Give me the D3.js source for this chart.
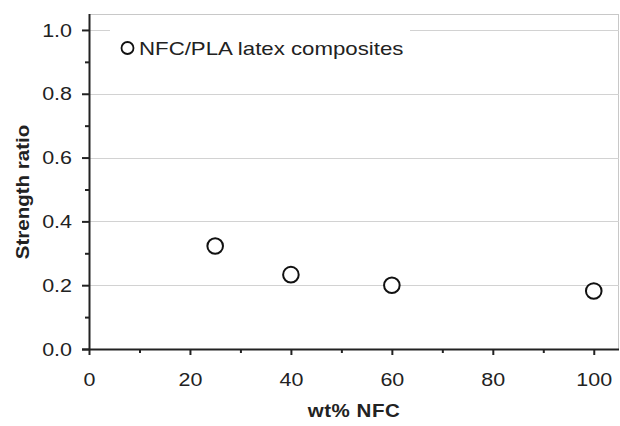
<!DOCTYPE html>
<html>
<head>
<meta charset="utf-8">
<script src="https://cdn.jsdelivr.net/npm/d3@7"></script>
<style>
  html, body { margin: 0; padding: 0; background: #fff; }
  svg { display: block; font-family: "Liberation Sans", Arial, sans-serif; }
</style>
</head>
<body>
<svg id="chart" width="620" height="426"></svg>
<script>
const wtNFC = [25, 40, 60, 100];
const strengthRatio = [0.323, 0.233, 0.200, 0.182];
const xTicks = [0, 20, 40, 60, 80, 100];
const xMinorTicks = [10, 30, 50, 70, 90];
const yTicks = [0.0, 0.2, 0.4, 0.6, 0.8, 1.0];
const yMinorTicks = [0.1, 0.3, 0.5, 0.7, 0.9];
const seriesName = "NFC/PLA latex composites";
const xTitle = "wt% NFC";
const yTitle = "Strength ratio";

const svg = d3.select("#chart");
const L = 89, R = 619, T = 14, B = 349;
const x = d3.scaleLinear().domain([0, 105]).range([L, R]);
const y = d3.scaleLinear().domain([0, 1.05]).range([B, T]);
const STRETCH = 1.13;

function stretch(sel, f) {
  sel.each(function () {
    const w = this.getComputedTextLength();
    d3.select(this).attr("textLength", w * f).attr("lengthAdjust", "spacingAndGlyphs");
  });
}

// frame (top, right)
svg.append("line").attr("x1", L).attr("x2", R).attr("y1", T + 0.5).attr("y2", T + 0.5)
  .attr("stroke", "#c8c8c8").attr("stroke-width", 1);
svg.append("line").attr("x1", R - 0.5).attr("x2", R - 0.5).attr("y1", T).attr("y2", B)
  .attr("stroke", "#c8c8c8").attr("stroke-width", 1);

// gridlines
svg.append("g").selectAll("line").data(yTicks.filter(d => d > 0)).join("line")
  .attr("x1", L).attr("x2", R)
  .attr("y1", d => Math.round(y(d)) + 0.5).attr("y2", d => Math.round(y(d)) + 0.5)
  .attr("stroke", "#d2d2d2").attr("stroke-width", 1);

// legend background
svg.append("rect").attr("x", 110).attr("y", 24).attr("width", 300).attr("height", 44).attr("fill", "#fff");

// minor axes
svg.append("g").attr("transform", `translate(${L},0)`)
  .call(d3.axisLeft(y).tickValues(yMinorTicks).tickSize(4).tickFormat(""))
  .call(g => g.select(".domain").remove())
  .call(g => g.selectAll("line").attr("stroke", "#222").attr("stroke-width", 2));
svg.append("g").attr("transform", `translate(0,${B})`)
  .call(d3.axisBottom(x).tickValues(xMinorTicks).tickSize(4).tickFormat(""))
  .call(g => g.select(".domain").remove())
  .call(g => g.selectAll("line").attr("stroke", "#222").attr("stroke-width", 2));

// major axes
const yAxis = svg.append("g").attr("transform", `translate(${L},0)`)
  .call(d3.axisLeft(y).tickValues(yTicks).tickSize(7).tickPadding(10).tickSizeOuter(0).tickFormat(d3.format(".1f")));
yAxis.select(".domain").attr("stroke", "#222").attr("stroke-width", 2)
  .attr("d", `M0.5,${T}V${B}`);
yAxis.selectAll(".tick line").attr("stroke", "#222").attr("stroke-width", 2);
yAxis.selectAll("text").attr("font-size", 19).attr("fill", "#222")
  .attr("font-family", "Liberation Sans, Arial, sans-serif").call(stretch, STRETCH);

const xAxis = svg.append("g").attr("transform", `translate(0,${B})`)
  .call(d3.axisBottom(x).tickValues(xTicks).tickSize(6).tickPadding(18).tickSizeOuter(0));
xAxis.select(".domain").attr("stroke", "#222").attr("stroke-width", 2)
  .attr("d", `M${L - 7},0.5H${R}`);
xAxis.selectAll(".tick line").attr("stroke", "#222").attr("stroke-width", 2);
xAxis.selectAll("text").attr("font-size", 19).attr("fill", "#222")
  .attr("font-family", "Liberation Sans, Arial, sans-serif").call(stretch, STRETCH);

// points
svg.append("g").selectAll("circle").data(wtNFC.map((d, i) => [d, strengthRatio[i]])).join("circle")
  .attr("cx", d => x(d[0])).attr("cy", d => y(d[1])).attr("r", 7.8)
  .attr("fill", "#fff").attr("stroke", "#111").attr("stroke-width", 2);

// legend
svg.append("circle").attr("cx", 127.5).attr("cy", 48).attr("r", 6)
  .attr("fill", "#fff").attr("stroke", "#111").attr("stroke-width", 1.8);
svg.append("text").attr("x", 139).attr("y", 55).attr("font-size", 19).attr("fill", "#222")
  .text(seriesName).call(stretch, 1.17);

// axis titles
const xt = svg.append("text").attr("x", (L + R) / 2).attr("y", 417).attr("text-anchor", "middle")
  .attr("font-size", 19).attr("font-weight", "bold").attr("fill", "#222")
  .text(xTitle).attr("letter-spacing", 0.5).call(stretch, 1.08);

const yt = svg.append("text").attr("transform", `translate(29,192) rotate(-90)`).attr("text-anchor", "middle")
  .attr("font-size", 19).attr("font-weight", "bold").attr("fill", "#222")
  .text(yTitle).call(stretch, 1.08);
</script>
</body>
</html>
